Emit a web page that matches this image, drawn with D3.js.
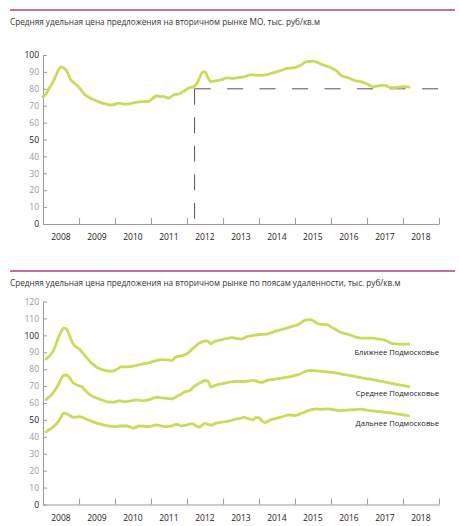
<!DOCTYPE html>
<html>
<head>
<meta charset="utf-8">
<script src="https://d3js.org/d3.v7.min.js"></script>
<style>
  body { margin: 0; background: #fff; }
  svg { display: block; }
  text { font-family: "Open Sans", sans-serif; }
</style>
</head>
<body>
<svg width="459" height="526"></svg>
<script>
// ---- data (monthly, thousand rub per sq.m) ----
const years = [2008, 2009, 2010, 2011, 2012, 2013, 2014, 2015, 2016, 2017, 2018]
const topTicks = [0, 10, 20, 30, 40, 50, 60, 70, 80, 90, 100]
const bottomTicks = [0, 10, 20, 30, 40, 50, 60, 70, 80, 90, 100, 110, 120]
const darkTicks = [0, 50, 100]

const topTitle = "Средняя удельная цена предложения на вторичном рынке МО, тыс. руб/кв.м"
const bottomTitle = "Средняя удельная цена предложения на вторичном рынке по поясам удаленности, тыс. руб/кв.м"

// Московская область, from Jan 2008
const moValues = [
  75.3, 77, 80, 83, 86.5, 90.5, 93, 92.2, 90.3, 86, 84, 82.5,
  80.8, 78.5, 76.5, 75.3, 74.3, 73.5, 72.8, 72, 71.4, 71, 70.5, 70.5,
  70.8, 71.5, 71.3, 71, 71, 71.2, 71.6, 72, 72.2, 72.4, 72.5, 72.4,
  73.5, 75, 75.9, 75.3, 75.5, 75, 74.5, 75.6, 76.7, 76.8, 77.5, 78.6,
  79.8, 80.7, 81, 82.5, 85.5, 89.5, 90.2, 86.5, 84.2, 84.5, 84.8, 85.1,
  85.6, 86.5, 86.4, 86.2, 86.3, 86.6, 86.8, 87.1, 87.7, 88.2, 88.2, 88.1,
  87.9, 87.9, 88.3, 88.6, 89.1, 89.6, 90.1, 90.6, 91.3, 91.9, 92.2, 92.4,
  92.6, 93.3, 94, 95.3, 96.1, 96.2, 96.4, 96, 95.2, 94.3, 93.8, 93.2,
  92.5, 91.5, 90.5, 88.5, 87.4, 86.9, 86.4, 85.5, 84.8, 84.5, 84.2, 83.6,
  83, 81.8, 81.3, 81.5, 81.8, 82, 82.2, 81.2, 80.7, 80.7, 80.8, 81,
  81.2, 81.3, 81
]

// zones, from Feb 2008
const nearValues = [
  86, 87.5, 89.5, 93, 98, 102, 104.3, 103.3, 99, 95, 93.2,
  92, 90, 88, 86, 84, 82.5, 81, 80.2, 79.6, 79.2, 78.9, 78.8,
  79.4, 80.3, 81.4, 81.3, 81.4, 81.5, 81.8, 82.1, 82.5, 83, 83.4, 83.6,
  84.2, 84.7, 85.1, 85.5, 85.6, 85.5, 85.4, 85.1, 86.8, 87.6, 87.8, 88.3,
  89.2, 90.5, 92.3, 93.8, 95.2, 96.2, 96.7, 96.4, 95, 96.2, 96.8, 97.1,
  97.6, 98, 98.3, 98.6, 98.4, 98, 97.8, 98.4, 99.2, 99.7, 99.9, 100.2,
  100.5, 100.6, 100.7, 100.9, 101.4, 102.1, 102.6, 103.1, 103.6, 104.1, 104.7, 105.3,
  105.7, 106.3, 107.4, 108.6, 109.2, 109.3, 108.8, 107.5, 106.7, 106.4, 106.3, 106.2,
  105, 104, 103, 102, 101.4, 101, 100.4, 99.8, 99.2, 98.7, 98.4, 98.3,
  98.3, 98.3, 98.3, 98.1, 97.8, 97.5, 97.1, 96.3, 95.4, 95.1, 94.9, 94.8,
  94.7, 94.8, 94.8
]
const middleValues = [
  62, 63.5, 65.2, 67.5, 70.5, 74, 76.5, 76.4, 74.5, 72, 71,
  70.2, 69.5, 67.5, 66, 64.5, 63.5, 62.8, 62.2, 61.6, 60.9, 60.6, 60.5,
  60.6, 61.2, 61.2, 60.8, 60.8, 61.2, 61.5, 61.8, 61.7, 61.4, 61.6, 61.8,
  62.3, 63, 63.4, 63.2, 63, 62.8, 62.6, 62.4, 63.2, 64.3, 65.2, 66.4,
  66.9, 67.5, 69.2, 70.5, 71.6, 72.6, 73.3, 73, 69.3, 70.2, 70.8, 71.2,
  71.5, 71.9, 72.3, 72.5, 72.7, 72.8, 72.7, 72.7, 72.9, 73.1, 73.3, 73.1,
  72.4, 72.2, 72.9, 73.5, 73.8, 74, 74.3, 74.6, 74.9, 75.1, 75.4, 75.8,
  76.3, 76.8, 77.3, 78.3, 79, 79.2, 79.2, 79, 78.9, 78.7, 78.5, 78.3,
  78.1, 77.9, 77.6, 77.3, 76.9, 76.6, 76.3, 76, 75.7, 75.3, 75, 74.7,
  74.3, 74.1, 73.8, 73.4, 73.1, 72.8, 72.4, 72, 71.7, 71.3, 71, 70.6,
  70.3, 70, 69.7
]
const farValues = [
  43, 44.2, 45.3, 46.8, 48.8, 51.5, 54, 53.5, 52.5, 51.6, 51.7,
  52, 51.6, 50.8, 50, 49.4, 48.7, 48, 47.6, 47.1, 46.7, 46.4, 46.2,
  46, 46.2, 46.4, 46.4, 46.4, 45.9, 45.2, 45.6, 46.4, 46.3, 46.2, 46,
  46.3, 46.8, 47, 46.7, 46.3, 46, 46.2, 46.5, 47.2, 47.3, 46.5, 46.7,
  47, 47.6, 47.7, 46.5, 45.7, 46.8, 48, 47.4, 47, 47.5, 48.3, 48.6,
  48.8, 49, 49.3, 49.8, 50.3, 50.7, 51.1, 51.6, 51, 50.4, 50.1, 51.5,
  51.2, 49.3, 48.4, 49.2, 50.1, 50.6, 51, 51.5, 52, 52.6, 53, 52.8,
  52.6, 53.1, 53.7, 54.4, 55.2, 55.8, 56.2, 56.5, 56.4, 56.3, 56.4, 56.5,
  56.3, 56, 55.7, 55.5, 55.6, 55.8, 55.9, 56, 56.1, 56.2, 56.3, 56.1,
  55.8, 55.5, 55.3, 55.1, 54.9, 54.8, 54.5, 54.3, 54.1, 53.8, 53.5, 53.3,
  53, 52.7, 52.4
]
const zoneNames = ["Ближнее Подмосковье", "Среднее Подмосковье", "Дальнее Подмосковье"]

// reference level on the top chart
const refStart = new Date(2012, 2, 18)
const refEnd = new Date(2018, 11, 22)
const refValue = 80

// ---- drawing ----
const green = "#c9dc5a"
const axisGray = "#9b9b9b"
const rose = "#b3417c"

var svg = d3.select('svg')

const toSeries = (values, startMonth) =>
  values.map((v, i) => ({ date: new Date(2008, startMonth + i, 1), value: v }))

var x = d3.scaleTime()
  .domain([new Date(2008, 0, 1), new Date(2019, 0, 1)])
  .range([43, 439])

const drawPanel = (opts) => {
  const g = svg.append('g')
  const y = d3.scaleLinear().domain([0, opts.max]).range([opts.bottom, opts.top])

  g.append('line')
    .attr('x1', 10).attr('x2', 455)
    .attr('y1', opts.ruleY).attr('y2', opts.ruleY)
    .attr('stroke', rose).attr('stroke-width', 1.3)

  g.append('text')
    .attr('x', 10).attr('y', opts.ruleY + 15)
    .attr('font-size', 8.2).attr('fill', '#333')
    .text(opts.title)

  // y axis
  const yAxis = g.append('g')
    .attr('transform', `translate(${x.range()[0]},0)`)
    .call(d3.axisLeft(y).tickValues(opts.ticks).tickSize(-4).tickPadding(4).tickSizeOuter(0))
  yAxis.select('.domain').attr('stroke', axisGray)
  yAxis.selectAll('.tick line').attr('stroke', axisGray)
  yAxis.selectAll('.tick text')
    .attr('font-size', 8.5)
    .attr('font-family', '"Open Sans", sans-serif')
    .attr('fill', d => darkTicks.includes(d) ? '#222' : '#9a9a9a')

  // x axis: year boundaries as inward ticks
  const bounds = years.map(yr => new Date(yr + 1, 0, 1))
  const xAxis = g.append('g')
    .attr('transform', `translate(0,${opts.bottom})`)
    .call(d3.axisBottom(x).tickValues(bounds).tickSize(-6).tickSizeOuter(0).tickFormat(''))
  xAxis.select('.domain').attr('stroke', axisGray)
  xAxis.selectAll('.tick line').attr('stroke', axisGray)

  g.selectAll('.year')
    .data(years)
    .enter()
    .append('text')
    .attr('class', 'year')
    .attr('x', d => x(new Date(d, 6, 1)))
    .attr('y', opts.bottom + 16)
    .attr('text-anchor', 'middle')
    .attr('font-size', 8.5)
    .attr('fill', '#222')
    .text(d => d)

  return { g, y }
}

// top panel
const topPanel = drawPanel({ ruleY: 10, title: topTitle, max: 100, top: 55, bottom: 224, ticks: topTicks })

topPanel.g.append('path')
  .attr('d', `M${x(refStart)},${topPanel.y(refValue)}V${topPanel.y(0)}`)
  .attr('stroke', '#555').attr('stroke-width', 1)
  .attr('stroke-dasharray', '16,12.5')

topPanel.g.append('path')
  .attr('d', `M${x(refStart)},${topPanel.y(refValue)}H${x(refEnd)}`)
  .attr('stroke', '#555').attr('stroke-width', 1)
  .attr('stroke-dasharray', '16,16.5')

var line = (y) => d3.line()
  .x(d => x(d.date))
  .y(d => y(d.value))
  .curve(d3.curveMonotoneX)

topPanel.g.append('path')
  .datum(toSeries(moValues, 0))
  .attr('fill', 'none')
  .attr('stroke', green)
  .attr('stroke-width', 2.8)
  .attr('stroke-linejoin', 'round')
  .attr('stroke-linecap', 'round')
  .attr('d', line(topPanel.y))

// bottom panel
const bottomPanel = drawPanel({ ruleY: 271, title: bottomTitle, max: 120, top: 301.5, bottom: 504.5, ticks: bottomTicks })

const zones = [nearValues, middleValues, farValues]
const labelY = [354.5, 395.5, 426]

bottomPanel.g.selectAll('.zone')
  .data(zones)
  .enter()
  .append('path')
  .attr('class', 'zone')
  .attr('fill', 'none')
  .attr('stroke', green)
  .attr('stroke-width', 2.8)
  .attr('stroke-linejoin', 'round')
  .attr('stroke-linecap', 'round')
  .attr('d', d => line(bottomPanel.y)(toSeries(d, 1)))

bottomPanel.g.selectAll('.zone-label')
  .data(zoneNames)
  .enter()
  .append('text')
  .attr('class', 'zone-label')
  .attr('x', 439)
  .attr('y', (d, i) => labelY[i])
  .attr('text-anchor', 'end')
  .attr('font-size', 7.6)
  .attr('fill', '#222')
  .text(d => d)
</script>
</body>
</html>
